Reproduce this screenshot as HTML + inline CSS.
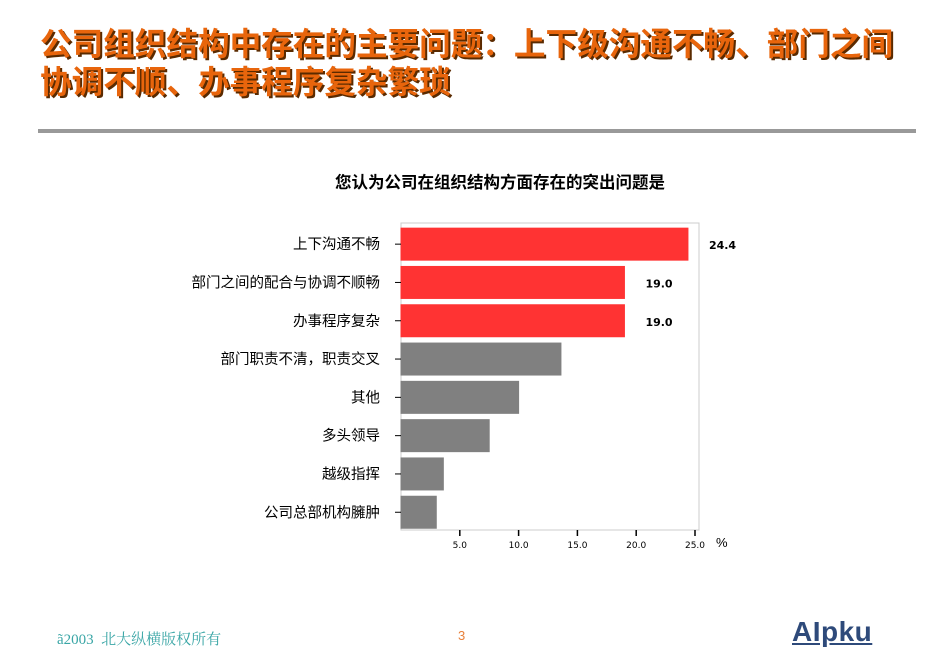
<!DOCTYPE html>
<html><head><meta charset="utf-8">
<style>
body{margin:0;width:950px;height:658px;background:#fff;position:relative;overflow:hidden;font-family:"Liberation Sans","Noto Sans CJK SC",sans-serif}
.title{position:absolute;left:40px;top:25px;font-size:31.6px;line-height:38px;font-weight:bold;color:#e8650c;text-shadow:2px 2px 0 #5a2a00;white-space:nowrap}
.rule{position:absolute;left:38px;top:129px;width:878px;height:4px;background:#999}
.foot{position:absolute;top:628px;font-size:14px}
</style></head><body>
<div class="title">公司组织结构中存在的主要问题：上下级沟通不畅、部门之间<br>协调不顺、办事程序复杂繁琐</div>
<div class="rule"></div>
<svg id="chart" width="950" height="658" style="position:absolute;left:0;top:0"></svg>
<div class="foot" style="left:57px;color:#3aa6a6;font-size:15px;font-family:'Liberation Serif','Noto Serif CJK SC',serif">ã2003 &nbsp;北大纵横版权所有</div>
<div class="foot" style="left:458px;color:#e8803a;font-size:13px">3</div>
<div class="foot" style="left:792px;top:616px;color:#2e4a7a;font-size:28px;font-weight:bold;letter-spacing:0.5px;text-decoration:underline">AIpku</div>
<script>
const categories=["上下沟通不畅","部门之间的配合与协调不顺畅","办事程序复杂","部门职责不清，职责交叉","其他","多头领导","越级指挥","公司总部机构臃肿"];
const values=[24.4,19.0,19.0,13.6,10.0,7.5,3.6,3.0];
const labelsShown=[true,true,true,false,false,false,false,false];
const tickValues=[5,10,15,20,25];
const tickLabels=["5.0","10.0","15.0","20.0","25.0"];
const NS="http://www.w3.org/2000/svg";
const svg=document.getElementById('chart');
const x0=401,xs=11.76,top0=225,step=38.3,bh=32;
const xp=v=>x0+v*xs;
const yc=i=>top0+step*i+step/2;
function mk(t,a,txt){const e=document.createElementNS(NS,t);for(const k in a)e.setAttribute(k,a[k]);if(txt!=null)e.textContent=txt;svg.appendChild(e);return e;}
let e=mk('text',{x:500,y:188,'text-anchor':'middle','font-size':16.5,'font-weight':'bold',fill:'#000'},'您认为公司在组织结构方面存在的突出问题是');


e=mk('rect',{x:401,y:223,width:298,height:307,fill:'none',stroke:'#ccc'});


categories.forEach((c,i)=>{
  const b=mk('rect',{x:x0,y:yc(i)-bh/2,width:xp(values[i])-x0,height:bh,fill:i<3?'#ff3333':'#808080',stroke:i<3?'#ff3333':'#808080'});
  
  
  const l=mk('text',{x:380,y:yc(i)+5,'text-anchor':'end','font-size':14.5,fill:'#000'},c);
  
  
  const t=mk('line',{x1:395,x2:401,y1:yc(i),y2:yc(i),stroke:'#000','stroke-width':1});
  
  
  if(labelsShown[i]){
    const v=mk('text',{x:xp(values[i])+21,y:yc(i)+5,'font-size':11,'font-weight':'bold',fill:'#000','font-family':'DejaVu Sans, sans-serif'},values[i].toFixed(1));
    
    
  }
});
tickValues.forEach((v,i)=>{
  const t=mk('line',{x1:xp(v),x2:xp(v),y1:530,y2:536,stroke:'#000','stroke-width':1.5});
  
  
  const l=mk('text',{x:xp(v),y:548,'text-anchor':'middle','font-size':9,fill:'#000','font-family':'DejaVu Sans, sans-serif'},tickLabels[i]);
  
  
});
e=mk('text',{x:716,y:547,'font-size':13,fill:'#000'},'%');


</script>
</body></html>
